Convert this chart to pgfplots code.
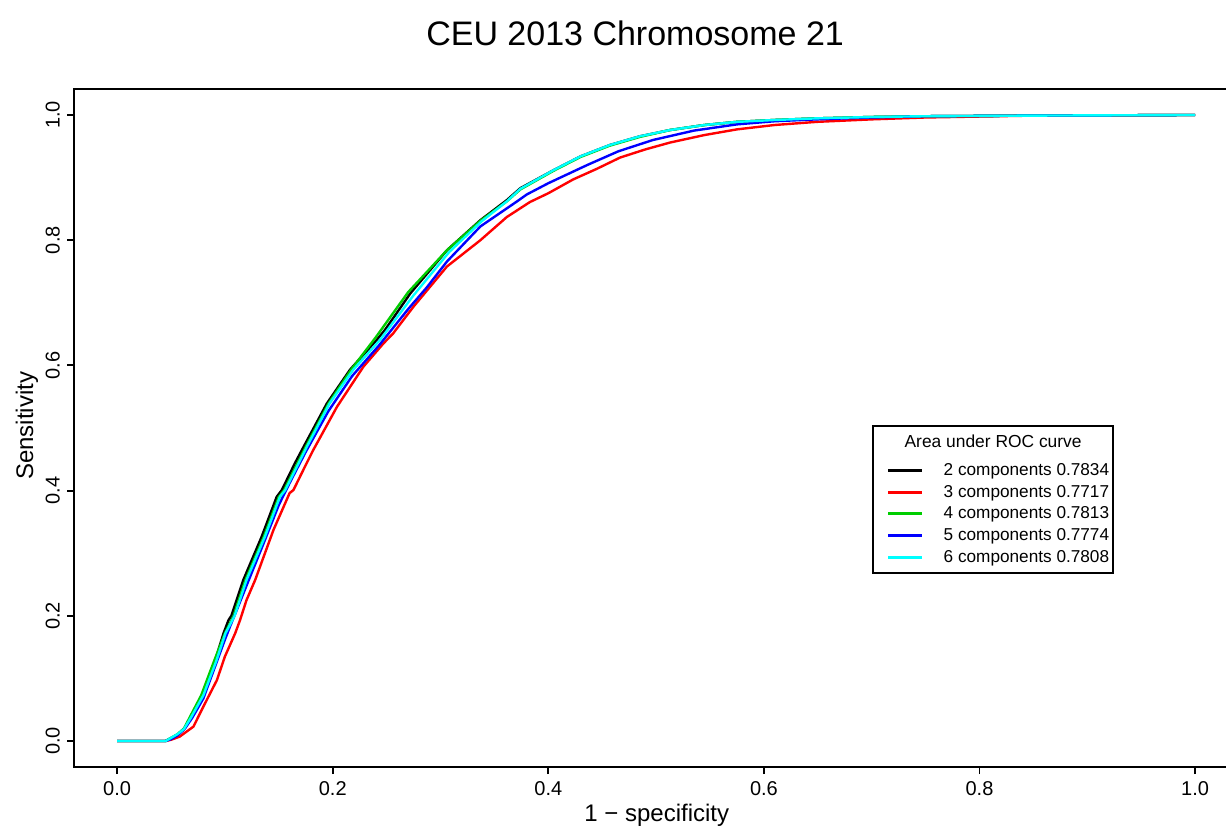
\documentclass[border=0pt]{standalone}
\usepackage{fontspec}
\setmainfont{Liberation Sans}
\usepackage{pgfplots}
\pgfplotsset{compat=1.18}
\definecolor{rgreen}{RGB}{0,205,0}
\definecolor{rcyan}{RGB}{0,255,255}
\definecolor{rblue}{RGB}{0,0,255}
\definecolor{rred}{RGB}{255,0,0}
\begin{document}
\begin{tikzpicture}
\begin{axis}[
  scale only axis, width=577pt, height=339pt,
  xmin=-0.04, xmax=1.0305, ymin=-0.0415, ymax=1.0415,
  clip=false,
  xtick={0,0.2,0.4,0.6,0.8,1}, ytick={0,0.2,0.4,0.6,0.8,1},
  xticklabels={0.0,0.2,0.4,0.6,0.8,1.0},
  yticklabels={0.0,0.2,0.4,0.6,0.8,1.0},
  tick pos=left, tick align=outside, major tick length=3.5pt,
  axis line style={line width=0.9pt},
  every tick/.style={line width=0.9pt, black},
  tick label style={font=\fontsize{10}{12}\selectfont},
  yticklabel style={rotate=90, anchor=south},
  xlabel={1 − specificity}, ylabel={Sensitivity},
  label style={font=\fontsize{12}{14}\selectfont},
  xlabel style={at={(axis description cs:0.505,-0.071)}, anchor=center},
  ylabel style={at={(axis description cs:-0.0407,0.503)}, anchor=center},
  legend style={at={(axis cs:0.7134,0.4473)}, anchor=north west, draw=none, fill=none,
    inner sep=0pt, row sep=1.85pt, column sep=10pt,
    font=\fontsize{8.6}{10}\selectfont,
    nodes={inner sep=0pt, text height=7pt, text depth=2pt}},
  legend cell align=left,
  legend image post style={line width=1.5pt},
  every axis plot/.append style={line width=1.2pt},
]
\addplot[black] coordinates {(0,0)(0.045,0)(0.049,0.004)(0.056,0.010)(0.0615,0.018)(0.069,0.039)(0.080,0.071)(0.091,0.129)(0.0987,0.172)(0.1033,0.193)(0.106,0.200)(0.117,0.257)(0.134,0.326)(0.148,0.390)(0.1528,0.401)(0.165,0.444)(0.173,0.470)(0.1945,0.539)(0.216,0.593)(0.241,0.641)(0.2486,0.657)(0.272,0.715)(0.306,0.784)(0.337,0.832)(0.3615,0.864)(0.374,0.883)(0.405,0.912)(0.430,0.934)(0.457,0.952)(0.485,0.966)(0.513,0.976)(0.545,0.984)(0.575,0.989)(0.610,0.992)(0.649,0.9946)(0.70,0.9968)(0.75,0.998)(0.85,0.999)(1,1)};
\addlegendentry{2 components 0.7834}
\addplot[rred] coordinates {(0,0)(0.045,0)(0.050,0.002)(0.058,0.007)(0.0708,0.023)(0.080,0.055)(0.0925,0.097)(0.100,0.135)(0.1095,0.172)(0.114,0.193)(0.120,0.225)(0.128,0.257)(0.145,0.337)(0.160,0.396)(0.1636,0.401)(0.173,0.434)(0.182,0.465)(0.204,0.534)(0.2285,0.598)(0.247,0.635)(0.256,0.651)(0.275,0.694)(0.306,0.758)(0.337,0.800)(0.3615,0.837)(0.383,0.861)(0.400,0.875)(0.423,0.897)(0.445,0.914)(0.4666,0.932)(0.490,0.945)(0.513,0.956)(0.545,0.968)(0.575,0.977)(0.610,0.984)(0.649,0.989)(0.70,0.993)(0.75,0.996)(0.85,0.999)(1,1)};
\addlegendentry{3 components 0.7717}
\addplot[rgreen] coordinates {(0,0)(0.045,0)(0.049,0.004)(0.056,0.011)(0.062,0.020)(0.068,0.040)(0.078,0.073)(0.090,0.128)(0.100,0.172)(0.108,0.200)(0.119,0.257)(0.136,0.326)(0.150,0.390)(0.155,0.401)(0.175,0.470)(0.196,0.539)(0.217,0.593)(0.240,0.645)(0.270,0.717)(0.306,0.784)(0.337,0.831)(0.3615,0.862)(0.374,0.881)(0.405,0.911)(0.430,0.933)(0.457,0.951)(0.485,0.965)(0.513,0.976)(0.545,0.984)(0.575,0.989)(0.610,0.992)(0.649,0.9946)(0.70,0.9968)(0.75,0.998)(0.85,0.999)(1,1)};
\addlegendentry{4 components 0.7813}
\addplot[rblue] coordinates {(0,0)(0.045,0)(0.050,0.003)(0.056,0.009)(0.063,0.020)(0.070,0.038)(0.080,0.068)(0.090,0.115)(0.100,0.162)(0.105,0.184)(0.110,0.205)(0.120,0.248)(0.135,0.312)(0.150,0.377)(0.160,0.412)(0.175,0.462)(0.196,0.527)(0.218,0.583)(0.243,0.632)(0.270,0.690)(0.287,0.724)(0.306,0.766)(0.337,0.822)(0.371,0.862)(0.380,0.873)(0.400,0.891)(0.436,0.920)(0.465,0.942)(0.497,0.960)(0.535,0.975)(0.575,0.985)(0.610,0.990)(0.649,0.993)(0.70,0.996)(0.75,0.998)(0.85,0.999)(1,1)};
\addlegendentry{5 components 0.7774}
\addplot[rcyan] coordinates {(0,0)(0.045,0)(0.049,0.004)(0.056,0.011)(0.062,0.019)(0.069,0.039)(0.080,0.073)(0.092,0.128)(0.1005,0.172)(0.109,0.200)(0.120,0.257)(0.137,0.326)(0.151,0.390)(0.156,0.401)(0.176,0.470)(0.197,0.539)(0.219,0.593)(0.244,0.641)(0.275,0.712)(0.308,0.781)(0.338,0.830)(0.3615,0.862)(0.374,0.882)(0.405,0.912)(0.430,0.934)(0.457,0.952)(0.485,0.966)(0.513,0.976)(0.545,0.984)(0.575,0.989)(0.610,0.992)(0.649,0.9946)(0.70,0.9968)(0.75,0.998)(0.85,0.999)(1,1)};
\addlegendentry{6 components 0.7808}
\draw[line width=0.75pt] (axis cs:0.7013,0.268) rectangle (axis cs:0.924,0.503);
\node[font=\fontsize{8.7}{10}\selectfont] at (axis cs:0.8126,0.479) {Area under ROC curve};
\node[font=\fontsize{17}{20}\selectfont] at (axis cs:0.4805,1.131) {CEU 2013 Chromosome 21};
\end{axis}
\pgfresetboundingbox
\path[use as bounding box] (-37pt,-29pt) rectangle (576pt,383.5pt);
\end{tikzpicture}
\end{document}
